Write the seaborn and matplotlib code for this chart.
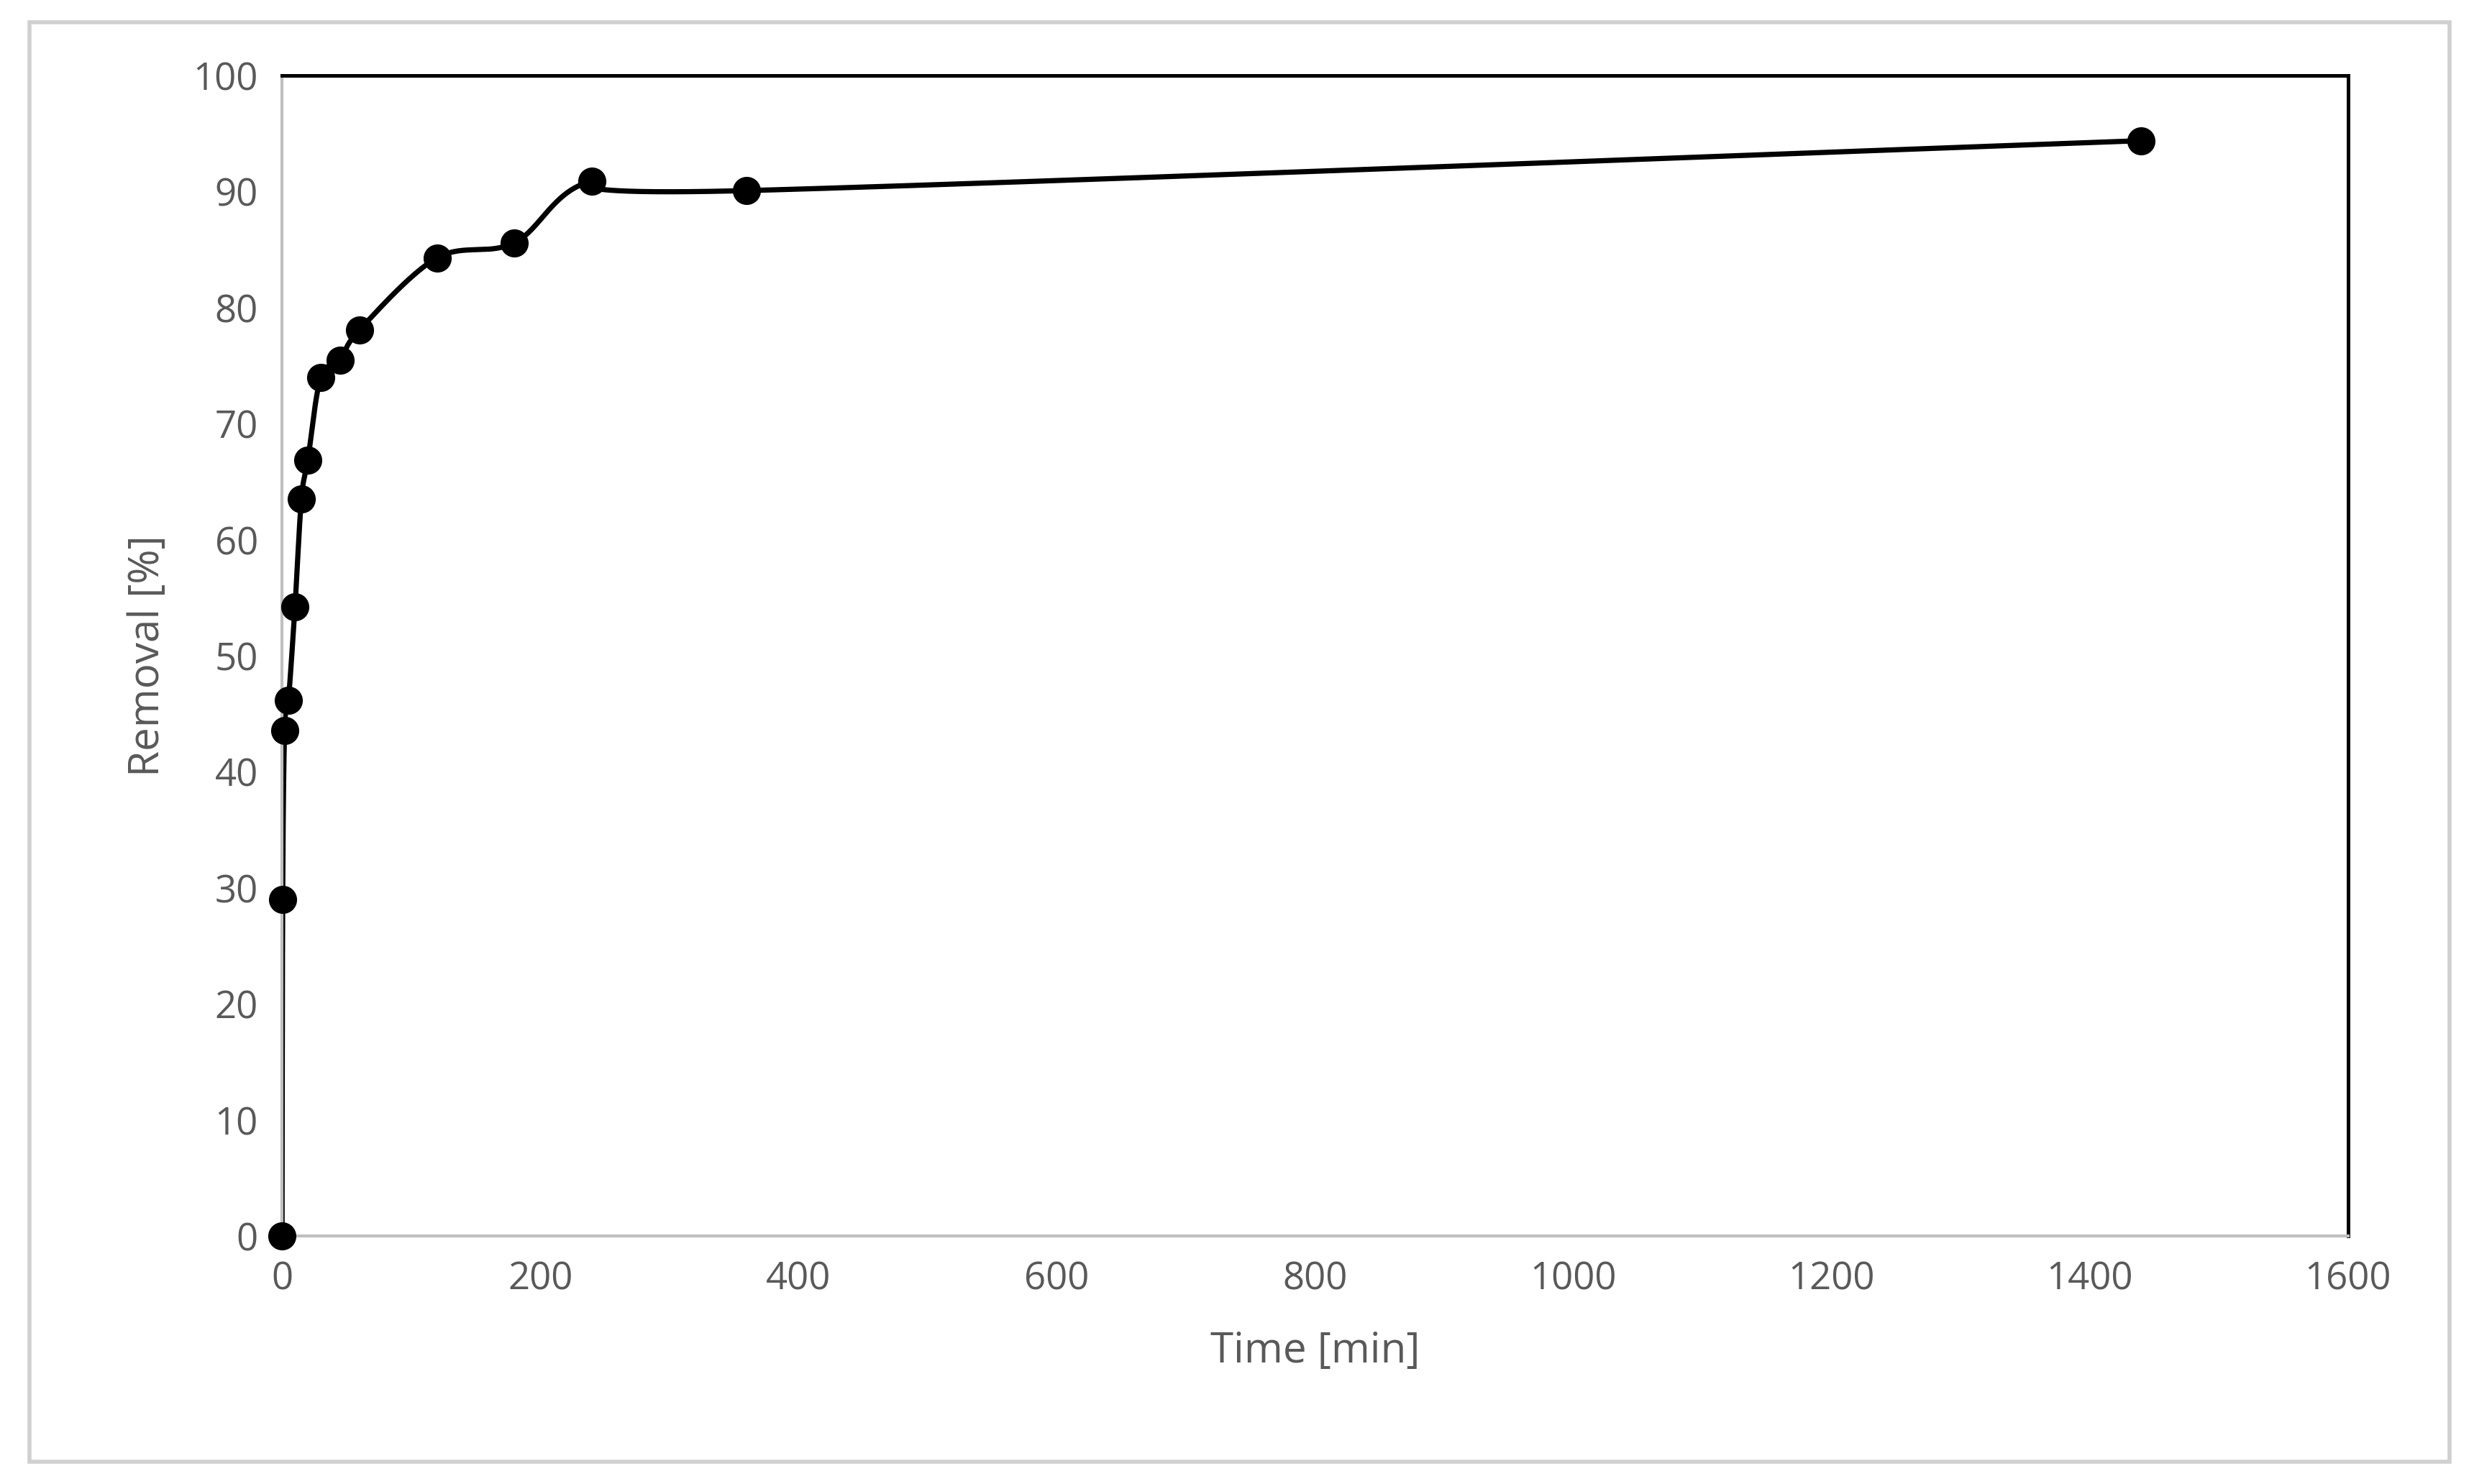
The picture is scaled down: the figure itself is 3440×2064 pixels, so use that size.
import numpy as np
import matplotlib
matplotlib.use("Agg")
import matplotlib.pyplot as plt
import seaborn as sns
from matplotlib.patches import Rectangle

# Data
time_min = [0, 0.5, 2, 5, 10, 15, 20, 30, 45, 60, 120, 180, 240, 360, 1440]
removal = [0, 29.0, 43.6, 46.2, 54.2, 63.5, 66.9, 74.0, 75.5, 78.1, 84.3, 85.6, 90.9, 90.1, 94.4]

sns.set_style("white")
plt.rcParams['font.family'] = ['Open Sans', 'DejaVu Sans']

fig = plt.figure(figsize=(17.2, 10.32), dpi=200)
ax = fig.add_axes([0.114, 0.167, 0.835, 0.782])

# Excel-style smoothed line (Catmull-Rom through the points)
x = np.array(time_min, float)
y = np.array(removal, float)
px = np.concatenate([[x[0]], x, [x[-1]]])
py = np.concatenate([[y[0]], y, [y[-1]]])
cx, cy = [], []
t = np.linspace(0, 1, 60)
for i in range(1, len(px) - 2):
    p0, p1, p2, p3 = (np.array([px[j], py[j]]) for j in range(i - 1, i + 3))
    m1 = (p2 - p0) / 2
    m2 = (p3 - p1) / 2
    h00 = 2*t**3 - 3*t**2 + 1
    h10 = t**3 - 2*t**2 + t
    h01 = -2*t**3 + 3*t**2
    h11 = t**3 - t**2
    pts = np.outer(h00, p1) + np.outer(h10, m1) + np.outer(h01, p2) + np.outer(h11, m2)
    cx.extend(pts[:, 0]); cy.extend(pts[:, 1])
ax.plot(cx, cy, color='black', lw=2.6, zorder=2)
sns.scatterplot(x=time_min, y=removal, ax=ax, color='black', s=170, edgecolor='black', zorder=3, clip_on=False)

ax.set_xlim(0, 1600)
ax.set_ylim(0, 100)
ax.set_xticks(range(0, 1601, 200))
ax.set_yticks(range(0, 101, 10))
ax.tick_params(labelsize=19, colors='#595959', length=0, pad=12)
for s in ['top', 'right']:
    ax.spines[s].set_color('black')
    ax.spines[s].set_linewidth(1.8)
for s in ['left', 'bottom']:
    ax.spines[s].set_color('#bfbfbf')
    ax.spines[s].set_linewidth(1.5)
ax.set_xlabel('Time [min]', fontsize=21, color='#595959', labelpad=16)
ax.set_ylabel('Removal [%]', fontsize=21, color='#595959', labelpad=12)

fig.patches.append(Rectangle((0.012, 0.015), 0.978, 0.97, transform=fig.transFigure,
                             fill=False, edgecolor='#d0d0d0', lw=2))

fig.savefig('out.png', dpi=200)
